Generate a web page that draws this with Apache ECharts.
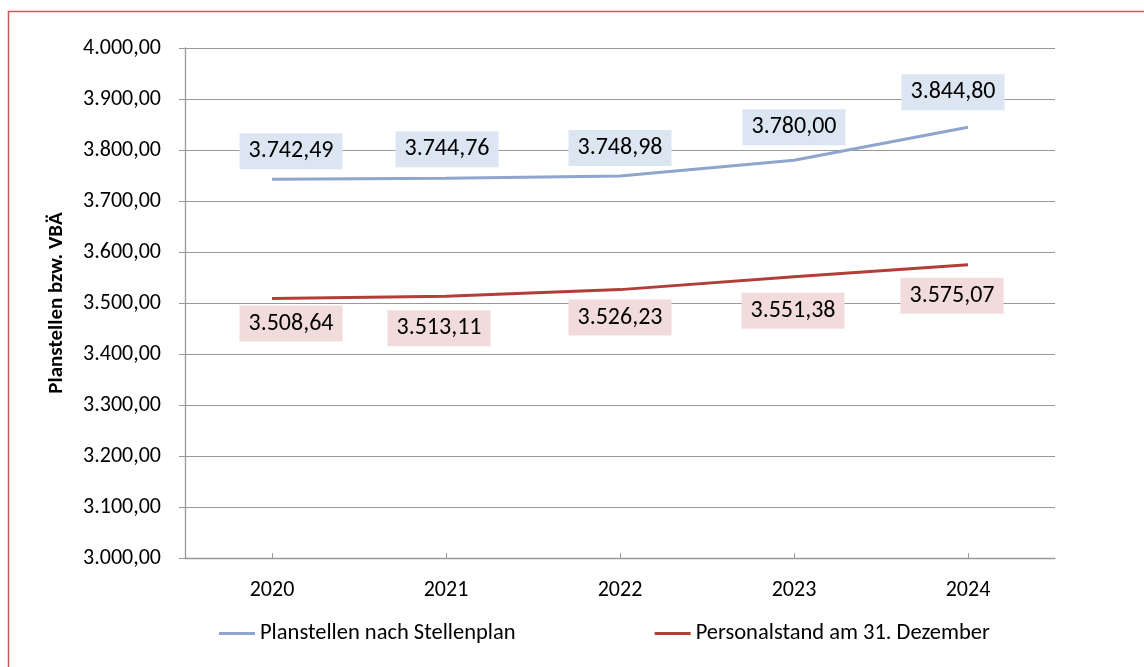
<!DOCTYPE html>
<html>
<head>
<meta charset="utf-8">
<script src="https://cdn.jsdelivr.net/npm/echarts@6/dist/echarts.min.js"></script>
<style>
html,body{margin:0;padding:0;background:#fff;}
#chart{width:1144px;height:667px;}
</style>
</head>
<body>
<div id="chart"></div>
<script>
// Data
var categories = ['2020', '2021', '2022', '2023', '2024'];
var planstellen = [3742.49, 3744.76, 3748.98, 3780.00, 3844.80];
var personalstand = [3508.64, 3513.11, 3526.23, 3551.38, 3575.07];
var seriesNames = ['Planstellen nach Stellenplan', 'Personalstand am 31. Dezember'];
var yAxisName = 'Planstellen bzw. VBÄ';

// Label placement (style only)
var planOffsets = [[19, -28], [1, -29], [0, -28], [0, -33], [-15, -35]];
var persOffsets = [[19, 25], [-7, 32], [0, 28], [-1, 34], [-16, 31]];

var FONT = 'Carlito, Lato, "Liberation Sans", sans-serif';

function fmt(v) {
  var parts = v.toFixed(2).split('.');
  var intPart = parts[0].replace(/\B(?=(\d{3})+(?!\d))/g, '.');
  return intPart + ',' + parts[1];
}

function buildData(values, offsets, bg) {
  return values.map(function (v, i) {
    return {
      value: v,
      label: {
        show: true,
        position: 'top',
        distance: 0,
        verticalAlign: 'middle',
        align: 'center',
        offset: offsets[i],
        formatter: function (p) { return fmt(p.value); },
        backgroundColor: bg,
        padding: [6, 9, 6, 9],
        fontSize: 24,
        lineHeight: 24,
        fontFamily: FONT,
        color: '#000'
      }
    };
  });
}

var chart = echarts.init(document.getElementById('chart'), null, {renderer: 'canvas'});
chart.setOption({
  animation: false,
  backgroundColor: '#fff',
  graphic: [{
    type: 'rect',
    shape: {x: 8.5, y: 11.5, width: 1200, height: 700},
    style: {fill: 'none', stroke: '#c65c5a', lineWidth: 1.5},
    silent: true
  }],
  grid: {left: 185, right: 89, top: 48, bottom: 109, containLabel: false},
  legend: {
    bottom: 17,
    left: 214,
    itemGap: 139,
    itemWidth: 36,
    itemHeight: 3,
    icon: 'rect',
    textStyle: {fontSize: 22.5, fontFamily: FONT, color: '#000'},
    data: seriesNames
  },
  xAxis: {
    type: 'category',
    data: categories,
    boundaryGap: true,
    axisLine: {lineStyle: {color: '#999', width: 1.3}},
    axisTick: {show: true, alignWithLabel: true, inside: true, length: 5, lineStyle: {color: '#999'}},
    axisLabel: {fontSize: 22, fontFamily: FONT, color: '#000', margin: 21}
  },
  yAxis: {
    type: 'value',
    min: 3000,
    max: 4000,
    interval: 100,
    name: yAxisName,
    nameLocation: 'middle',
    nameGap: 118,
    nameRotate: 90,
    nameTextStyle: {fontSize: 21, fontWeight: 'bold', fontFamily: FONT, color: '#000'},
    axisLine: {show: true, lineStyle: {color: '#999', width: 1.3}},
    axisTick: {show: true, inside: false, length: 6, lineStyle: {color: '#999'}},
    splitLine: {show: true, lineStyle: {color: '#999', width: 1}},
    axisLabel: {fontSize: 22, fontFamily: FONT, color: '#000', margin: 24,
      formatter: function (v) { return fmt(v); }}
  },
  series: [
    {
      name: seriesNames[0],
      type: 'line',
      data: buildData(planstellen, planOffsets, '#dce6f2'),
      symbol: 'circle',
      symbolSize: 0,
      showSymbol: true,
      lineStyle: {color: '#8ea5cd', width: 3},
      itemStyle: {color: '#8ea5cd'},
      z: 3
    },
    {
      name: seriesNames[1],
      type: 'line',
      data: buildData(personalstand, persOffsets, '#f2dcdb'),
      symbol: 'circle',
      symbolSize: 0,
      showSymbol: true,
      lineStyle: {color: '#b23e3a', width: 3},
      itemStyle: {color: '#b23e3a'},
      z: 3
    }
  ]
});
</script>
</body>
</html>
